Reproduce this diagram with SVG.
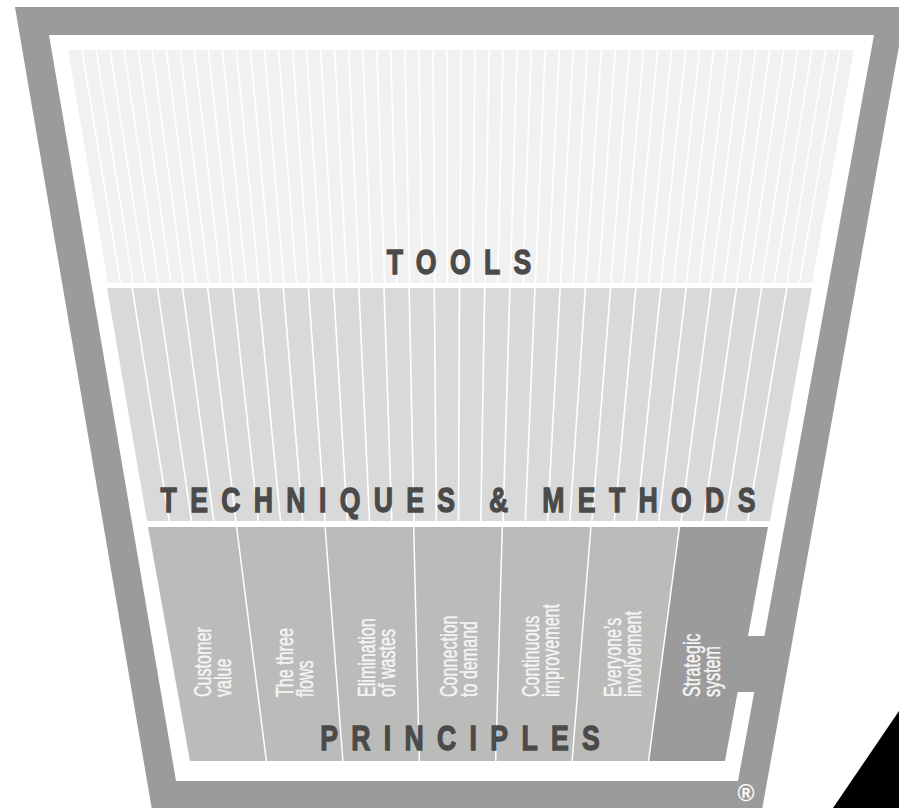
<svg xmlns="http://www.w3.org/2000/svg" width="899" height="808" viewBox="0 0 899 808">
<style>
.frame{fill:#9b9b9b}
.inner{fill:#ffffff}
.tools{fill:#f1f1f1}
.tech{fill:#d9d9d9}
.prin{fill:#bbbbb9}
.strat{fill:#9b9b9b}
.stripe{stroke:#ffffff;stroke-width:1.6;fill:none}
.div{stroke:#ffffff;stroke-width:1.5;fill:none}
.head{font-family:"Liberation Sans",Arial,sans-serif;font-weight:bold;font-size:36px;fill:#4a4a4a;stroke:#4a4a4a;stroke-width:1.3;letter-spacing:18px;text-anchor:middle}
.lbl{font-family:"Liberation Sans",Arial,sans-serif;font-size:23px;fill:#f4f4f4;stroke:#f4f4f4;stroke-width:0.5}
</style>
<rect width="899" height="808" fill="#ffffff"/>
<g id="frame">
<polygon class="frame" points="15,7 906,7 762,810 152,810"/>
<polygon class="inner" points="49,35 874,35 738,781 176,781"/>
</g>
<g id="tools">
<polygon class="tools" points="68,50 854,50 812,283 108,283"/>
<g class="stripe">
<line x1="82.0" y1="50" x2="120.6" y2="283"/><line x1="96.1" y1="50" x2="133.1" y2="283"/><line x1="110.1" y1="50" x2="145.7" y2="283"/><line x1="124.1" y1="50" x2="158.3" y2="283"/><line x1="138.2" y1="50" x2="170.9" y2="283"/><line x1="152.2" y1="50" x2="183.4" y2="283"/><line x1="166.3" y1="50" x2="196.0" y2="283"/><line x1="180.3" y1="50" x2="208.6" y2="283"/><line x1="194.3" y1="50" x2="221.1" y2="283"/><line x1="208.4" y1="50" x2="233.7" y2="283"/><line x1="222.4" y1="50" x2="246.3" y2="283"/><line x1="236.4" y1="50" x2="258.9" y2="283"/><line x1="250.5" y1="50" x2="271.4" y2="283"/><line x1="264.5" y1="50" x2="284.0" y2="283"/><line x1="278.5" y1="50" x2="296.6" y2="283"/><line x1="292.6" y1="50" x2="309.1" y2="283"/><line x1="306.6" y1="50" x2="321.7" y2="283"/><line x1="320.6" y1="50" x2="334.3" y2="283"/><line x1="334.7" y1="50" x2="346.9" y2="283"/><line x1="348.7" y1="50" x2="359.4" y2="283"/><line x1="362.8" y1="50" x2="372.0" y2="283"/><line x1="376.8" y1="50" x2="384.6" y2="283"/><line x1="390.8" y1="50" x2="397.1" y2="283"/><line x1="404.9" y1="50" x2="409.7" y2="283"/><line x1="418.9" y1="50" x2="422.3" y2="283"/><line x1="432.9" y1="50" x2="434.9" y2="283"/><line x1="447.0" y1="50" x2="447.4" y2="283"/><line x1="461.0" y1="50" x2="460.0" y2="283"/><line x1="475.0" y1="50" x2="472.6" y2="283"/><line x1="489.1" y1="50" x2="485.1" y2="283"/><line x1="503.1" y1="50" x2="497.7" y2="283"/><line x1="517.1" y1="50" x2="510.3" y2="283"/><line x1="531.2" y1="50" x2="522.9" y2="283"/><line x1="545.2" y1="50" x2="535.4" y2="283"/><line x1="559.3" y1="50" x2="548.0" y2="283"/><line x1="573.3" y1="50" x2="560.6" y2="283"/><line x1="587.3" y1="50" x2="573.1" y2="283"/><line x1="601.4" y1="50" x2="585.7" y2="283"/><line x1="615.4" y1="50" x2="598.3" y2="283"/><line x1="629.4" y1="50" x2="610.9" y2="283"/><line x1="643.5" y1="50" x2="623.4" y2="283"/><line x1="657.5" y1="50" x2="636.0" y2="283"/><line x1="671.5" y1="50" x2="648.6" y2="283"/><line x1="685.6" y1="50" x2="661.1" y2="283"/><line x1="699.6" y1="50" x2="673.7" y2="283"/><line x1="713.6" y1="50" x2="686.3" y2="283"/><line x1="727.7" y1="50" x2="698.9" y2="283"/><line x1="741.7" y1="50" x2="711.4" y2="283"/><line x1="755.8" y1="50" x2="724.0" y2="283"/><line x1="769.8" y1="50" x2="736.6" y2="283"/><line x1="783.8" y1="50" x2="749.1" y2="283"/><line x1="797.9" y1="50" x2="761.7" y2="283"/><line x1="811.9" y1="50" x2="774.3" y2="283"/><line x1="825.9" y1="50" x2="786.9" y2="283"/><line x1="840.0" y1="50" x2="799.4" y2="283"/>
</g>
<text class="head" transform="translate(459,274) scale(0.74,1)" x="9">TOOLS</text>
</g>
<g id="techniques">
<polygon class="tech" points="107,288 812,288 770,521 147,521"/>
<g class="stripe">
<line x1="132.2" y1="288" x2="169.3" y2="521"/><line x1="157.4" y1="288" x2="191.5" y2="521"/><line x1="182.5" y1="288" x2="213.8" y2="521"/><line x1="207.7" y1="288" x2="236.0" y2="521"/><line x1="232.9" y1="288" x2="258.3" y2="521"/><line x1="258.1" y1="288" x2="280.5" y2="521"/><line x1="283.3" y1="288" x2="302.8" y2="521"/><line x1="308.4" y1="288" x2="325.0" y2="521"/><line x1="333.6" y1="288" x2="347.3" y2="521"/><line x1="358.8" y1="288" x2="369.5" y2="521"/><line x1="384.0" y1="288" x2="391.8" y2="521"/><line x1="409.1" y1="288" x2="414.0" y2="521"/><line x1="434.3" y1="288" x2="436.3" y2="521"/><line x1="459.5" y1="288" x2="458.5" y2="521"/><line x1="484.7" y1="288" x2="480.8" y2="521"/><line x1="509.9" y1="288" x2="503.0" y2="521"/><line x1="535.0" y1="288" x2="525.3" y2="521"/><line x1="560.2" y1="288" x2="547.5" y2="521"/><line x1="585.4" y1="288" x2="569.8" y2="521"/><line x1="610.6" y1="288" x2="592.0" y2="521"/><line x1="635.8" y1="288" x2="614.3" y2="521"/><line x1="660.9" y1="288" x2="636.5" y2="521"/><line x1="686.1" y1="288" x2="658.8" y2="521"/><line x1="711.3" y1="288" x2="681.0" y2="521"/><line x1="736.5" y1="288" x2="703.3" y2="521"/><line x1="761.6" y1="288" x2="725.5" y2="521"/><line x1="786.8" y1="288" x2="747.8" y2="521"/>
</g>
<text class="head" transform="translate(458,512) scale(0.74,1)" x="9">TECHNIQUES &amp; METHODS</text>
</g>
<g id="principles">
<polygon class="prin" points="148,527 679.4,527 648.6,761 190,761"/>
<g id="strategic-system">
<polygon class="strat" points="679.4,527 768,527 725,761 648.6,761"/>
<polygon class="strat" points="745,636 778,636 778,692 735,692"/>
</g>
<g class="div">
<line x1="236.6" y1="527" x2="266.4" y2="761"/><line x1="325.1" y1="527" x2="342.9" y2="761"/><line x1="413.7" y1="527" x2="419.3" y2="761"/><line x1="502.3" y1="527" x2="495.7" y2="761"/><line x1="590.9" y1="527" x2="572.1" y2="761"/><line x1="679.4" y1="527" x2="648.6" y2="761"/>
</g>
<g id="customer-value" transform="translate(212,697) rotate(-90) scale(0.7,1)"><text class="lbl" y="-1.5">Customer</text><text class="lbl" y="18.5">value</text></g>
<g id="three-flows" transform="translate(294,697) rotate(-90) scale(0.7,1)"><text class="lbl" y="-1.5">The three</text><text class="lbl" y="18.5">flows</text></g>
<g id="elimination-wastes" transform="translate(376,697) rotate(-90) scale(0.7,1)"><text class="lbl" y="-1.5">Elimination</text><text class="lbl" y="18.5">of wastes</text></g>
<g id="connection-demand" transform="translate(458,697) rotate(-90) scale(0.7,1)"><text class="lbl" y="-1.5">Connection</text><text class="lbl" y="18.5">to demand</text></g>
<g id="continuous-improvement" transform="translate(540,697) rotate(-90) scale(0.7,1)"><text class="lbl" y="-1.5">Continuous</text><text class="lbl" y="18.5">improvement</text></g>
<g id="everyones-involvement" transform="translate(622,697) rotate(-90) scale(0.7,1)"><text class="lbl" y="-1.5">Everyone’s</text><text class="lbl" y="18.5">involvement</text></g>
<g id="strategic-label" transform="translate(701,697) rotate(-90) scale(0.7,1)"><text class="lbl" y="-1.5">Strategic</text><text class="lbl" y="18.5">system</text></g>
<text class="head" transform="translate(460,750) scale(0.74,1)" x="9">PRINCIPLES</text>
</g>
<g id="connectors"/>
<polygon id="corner" points="899,711 899,808 833,808" fill="#000000"/>
<text x="746" y="801" font-family="Liberation Sans,Arial,sans-serif" font-size="23" font-weight="bold" fill="#ffffff" text-anchor="middle">®</text>
</svg>
